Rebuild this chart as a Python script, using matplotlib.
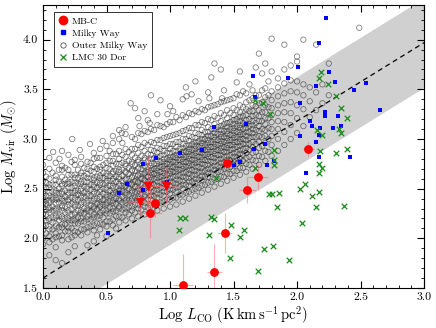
import matplotlib
matplotlib.use("Agg")
import matplotlib.pyplot as plt
from matplotlib.ticker import MultipleLocator
from matplotlib.lines import Line2D

plt.rcParams['font.family'] = 'serif'
plt.rcParams['font.serif'] = ['cmr10', 'DejaVu Serif']
plt.rcParams['mathtext.fontset'] = 'cm'
plt.rcParams['axes.formatter.use_mathtext'] = True

# ---------------- data ----------------
line_slope = 0.79
line_intercept = 1.60
band_halfwidth = 0.45
line_x = [0.0, 3.0]

# MB-C clouds (detections)
mbc_x = [1.10, 1.35, 1.43, 1.61, 1.69, 1.45, 2.09, 0.84, 0.88]
mbc_y = [1.53, 1.66, 2.05, 2.49, 2.62, 2.76, 2.90, 2.26, 2.36]
mbc_xerr = [0.08, 0.06, 0.06, 0.065, 0.08, 0.05, 0.04, 0.10, 0.07]
mbc_yerr = [0.31, 0.28, 0.20, 0.13, 0.13, 0.10, 0.07, 0.26, 0.15]

# MB-C upper limits (triangles)
mbc_lim_x = [0.76, 0.83, 0.97]
mbc_lim_y = [2.37, 2.53, 2.53]
mbc_lim_xerr = [0.10, 0.10, 0.09]
mbc_lim_yerr = [0.14, 0.30, 0.18]

# Milky Way
mw_x = [0.79, 0.89, 1.08, 1.25, 1.35, 0.66, 0.60, 0.79, 0.98, 0.51,
        2.23, 2.17, 1.65, 2.01, 1.93, 1.67, 2.25, 2.15, 2.30, 2.45,
        2.54, 2.02, 1.60, 2.22, 2.22, 2.32, 2.10, 2.12, 2.18, 2.28,
        2.35, 2.65, 2.02, 2.17, 2.15, 1.66, 1.75, 2.17, 2.42, 1.82,
        1.76, 1.55, 1.50, 2.07]
mw_y = [2.75, 2.81, 2.86, 2.89, 3.12, 2.55, 2.46, 2.49, 2.57, 2.05,
        4.22, 3.97, 3.63, 3.72, 3.61, 3.42, 3.67, 3.53, 3.57, 3.49,
        3.56, 3.36, 3.15, 3.27, 3.23, 3.23, 3.18, 3.13, 3.11, 3.11,
        3.13, 3.29, 3.03, 3.04, 2.97, 2.90, 2.95, 2.82, 2.82, 2.78,
        2.74, 2.77, 2.74, 2.66]

# LMC 30 Dor
lmc_x = [2.19, 2.17, 2.24, 2.31, 2.35, 2.39, 1.67, 1.73, 1.79, 2.16,
         2.20, 2.35, 2.33, 1.82, 2.18, 2.31, 2.39, 1.82, 1.82, 2.17,
         2.20, 1.67, 2.17, 1.36, 2.02, 2.06, 2.12, 2.17, 1.78, 1.80,
         1.86, 1.84, 2.15, 2.37, 1.32, 1.35, 1.48, 1.58, 1.55, 1.31,
         2.04, 1.74, 1.81, 1.94, 1.47, 1.69, 1.08, 1.12, 1.07]
lmc_y = [3.67, 3.61, 3.55, 3.43, 3.31, 3.21, 3.39, 3.36, 3.25, 3.09,
         3.04, 3.06, 3.10, 2.89, 2.88, 2.86, 2.90, 2.79, 2.74, 2.75,
         2.71, 2.71, 2.66, 2.61, 2.50, 2.55, 2.43, 2.47, 2.45, 2.45,
         2.46, 2.32, 2.32, 2.33, 2.21, 2.19, 2.13, 2.08, 2.01, 2.03,
         2.15, 1.89, 1.92, 1.78, 1.80, 1.67, 2.20, 2.20, 2.08]

# Outer Milky Way, set A: columns of Log L_CO with their Log M_vir values
omw_a_x = [0.00, 0.05, 0.10, 0.15, 0.20, 0.25, 0.30, 0.35, 0.40, 0.45,
           0.50, 0.55, 0.60, 0.65, 0.70, 0.75, 0.80, 0.85, 0.90, 0.95,
           1.00, 1.05, 1.10, 1.15, 1.20, 1.25, 1.30, 1.35, 1.40, 1.45,
           1.50, 1.55, 1.60, 1.65, 1.70, 1.75, 1.80, 1.85, 1.90, 1.95,
           2.00, 2.05, 2.10, 2.15, 2.20, 2.25, 2.49]
omw_a_y = [
    [1.94, 2.00, 2.08, 2.12, 2.14, 2.20, 2.24, 2.25, 2.31, 2.34, 2.36, 2.41, 2.45, 2.47, 2.53, 2.58, 2.66, 2.74],
    [1.83, 1.96, 2.02, 2.09, 2.12, 2.18, 2.20, 2.26, 2.29, 2.31, 2.36, 2.38, 2.43, 2.46, 2.51, 2.54, 2.60, 2.70, 2.81],
    [1.78, 1.91, 2.01, 2.05, 2.12, 2.15, 2.21, 2.23, 2.28, 2.30, 2.35, 2.39, 2.41, 2.46, 2.48, 2.54, 2.59, 2.63, 2.76],
    [1.75, 1.98, 2.03, 2.11, 2.14, 2.20, 2.22, 2.28, 2.31, 2.33, 2.38, 2.40, 2.45, 2.47, 2.53, 2.55, 2.62, 2.69, 2.73, 2.88],
    [1.86, 1.99, 2.07, 2.11, 2.18, 2.20, 2.26, 2.28, 2.34, 2.37, 2.39, 2.44, 2.46, 2.51, 2.55, 2.57, 2.64, 2.69, 2.84],
    [1.92, 2.03, 2.07, 2.15, 2.18, 2.24, 2.26, 2.32, 2.34, 2.39, 2.41, 2.46, 2.48, 2.53, 2.56, 2.61, 2.64, 2.74, 2.79],
    [2.03, 2.09, 2.17, 2.20, 2.26, 2.28, 2.34, 2.36, 2.41, 2.43, 2.48, 2.50, 2.55, 2.57, 2.63, 2.66, 2.75, 2.82],
    [1.93, 2.06, 2.11, 2.19, 2.22, 2.28, 2.30, 2.36, 2.38, 2.43, 2.45, 2.50, 2.52, 2.57, 2.61, 2.65, 2.70, 2.77],
    [1.97, 2.08, 2.13, 2.21, 2.24, 2.30, 2.32, 2.38, 2.40, 2.45, 2.47, 2.52, 2.54, 2.59, 2.61, 2.67, 2.72, 2.80, 2.86],
    [2.09, 2.15, 2.23, 2.26, 2.32, 2.34, 2.40, 2.42, 2.47, 2.49, 2.54, 2.56, 2.61, 2.63, 2.69, 2.72, 2.81, 2.90],
    [2.02, 2.12, 2.17, 2.25, 2.28, 2.34, 2.36, 2.42, 2.44, 2.49, 2.51, 2.56, 2.58, 2.63, 2.65, 2.71, 2.76, 2.83, 2.93],
    [2.13, 2.19, 2.27, 2.30, 2.36, 2.38, 2.44, 2.46, 2.51, 2.53, 2.58, 2.60, 2.65, 2.67, 2.73, 2.78, 2.85, 2.96],
    [2.16, 2.22, 2.30, 2.32, 2.38, 2.40, 2.46, 2.48, 2.53, 2.55, 2.60, 2.62, 2.67, 2.69, 2.75, 2.80, 2.88, 3.00, 3.09],
    [2.18, 2.26, 2.30, 2.36, 2.38, 2.44, 2.46, 2.52, 2.53, 2.59, 2.60, 2.66, 2.67, 2.73, 2.75, 2.82, 2.90, 3.05, 3.12],
    [2.20, 2.28, 2.32, 2.38, 2.40, 2.46, 2.48, 2.54, 2.55, 2.61, 2.62, 2.68, 2.69, 2.75, 2.77, 2.84, 2.90, 3.02],
    [2.22, 2.30, 2.34, 2.40, 2.42, 2.48, 2.50, 2.56, 2.57, 2.63, 2.64, 2.70, 2.71, 2.77, 2.79, 2.86, 2.94, 3.06, 3.21],
    [2.24, 2.32, 2.36, 2.42, 2.44, 2.50, 2.52, 2.58, 2.59, 2.65, 2.66, 2.72, 2.73, 2.79, 2.81, 2.88, 2.96, 3.08, 3.28],
    [2.26, 2.33, 2.39, 2.43, 2.47, 2.51, 2.55, 2.59, 2.62, 2.66, 2.69, 2.73, 2.76, 2.80, 2.84, 2.89, 2.97, 3.10, 3.44],
    [2.28, 2.35, 2.41, 2.45, 2.49, 2.53, 2.57, 2.61, 2.64, 2.68, 2.71, 2.75, 2.78, 2.82, 2.86, 2.91, 2.99, 3.14, 3.25],
    [2.30, 2.37, 2.43, 2.47, 2.51, 2.55, 2.59, 2.63, 2.66, 2.70, 2.73, 2.77, 2.80, 2.84, 2.88, 2.93, 3.01, 3.12],
    [2.32, 2.39, 2.45, 2.49, 2.53, 2.57, 2.61, 2.65, 2.68, 2.72, 2.75, 2.79, 2.82, 2.86, 2.90, 2.95, 3.03, 3.17, 3.33],
    [2.34, 2.41, 2.47, 2.51, 2.55, 2.59, 2.63, 2.67, 2.70, 2.74, 2.77, 2.81, 2.84, 2.88, 2.92, 2.97, 3.05, 3.22],
    [2.37, 2.44, 2.50, 2.54, 2.58, 2.62, 2.66, 2.70, 2.73, 2.77, 2.80, 2.84, 2.87, 2.91, 2.95, 3.00, 3.08, 3.24, 3.40],
    [2.40, 2.47, 2.53, 2.57, 2.61, 2.65, 2.69, 2.73, 2.76, 2.80, 2.83, 2.87, 2.90, 2.94, 2.98, 3.03, 3.11, 3.26],
    [2.43, 2.50, 2.56, 2.60, 2.64, 2.68, 2.72, 2.76, 2.79, 2.83, 2.86, 2.90, 2.93, 2.97, 3.01, 3.06, 3.14, 3.28, 3.58],
    [2.46, 2.53, 2.59, 2.63, 2.67, 2.71, 2.75, 2.79, 2.82, 2.86, 2.89, 2.93, 2.96, 3.00, 3.04, 3.09, 3.17, 3.30],
    [2.49, 2.56, 2.62, 2.66, 2.70, 2.74, 2.78, 2.82, 2.85, 2.89, 2.92, 2.96, 2.99, 3.03, 3.07, 3.12, 3.20, 3.32, 3.47],
    [2.52, 2.59, 2.65, 2.69, 2.73, 2.77, 2.81, 2.85, 2.88, 2.92, 2.95, 2.99, 3.02, 3.06, 3.10, 3.15, 3.23, 3.34, 3.76],
    [2.55, 2.62, 2.68, 2.72, 2.76, 2.80, 2.84, 2.88, 2.91, 2.95, 2.98, 3.02, 3.05, 3.09, 3.13, 3.18, 3.26, 3.37, 3.70],
    [2.58, 2.65, 2.71, 2.75, 2.79, 2.83, 2.87, 2.91, 2.94, 2.98, 3.01, 3.05, 3.08, 3.12, 3.16, 3.21, 3.29, 3.39],
    [2.61, 2.68, 2.74, 2.78, 2.82, 2.86, 2.90, 2.94, 2.97, 3.01, 3.04, 3.08, 3.11, 3.15, 3.19, 3.24, 3.31, 3.41],
    [2.64, 2.71, 2.77, 2.81, 2.85, 2.89, 2.93, 2.97, 3.00, 3.04, 3.07, 3.11, 3.14, 3.18, 3.22, 3.27, 3.34, 3.44, 3.68],
    [2.67, 2.75, 2.81, 2.86, 2.91, 2.95, 2.99, 3.03, 3.07, 3.11, 3.15, 3.19, 3.24, 3.30, 3.37, 3.46],
    [2.70, 2.79, 2.86, 2.92, 2.97, 3.02, 3.06, 3.10, 3.14, 3.18, 3.23, 3.28, 3.34, 3.41, 3.49],
    [2.74, 2.83, 2.91, 2.97, 3.03, 3.08, 3.13, 3.18, 3.23, 3.29, 3.36, 3.44, 3.86],
    [2.78, 2.88, 2.96, 3.03, 3.09, 3.15, 3.21, 3.27, 3.34, 3.42, 3.51, 3.76],
    [2.83, 2.94, 3.03, 3.10, 3.17, 3.24, 3.31, 3.39, 3.48, 3.68, 4.01],
    [2.88, 3.00, 3.10, 3.18, 3.26, 3.34, 3.43, 3.52, 3.61],
    [2.94, 3.07, 3.17, 3.27, 3.36, 3.46, 3.56, 3.70, 3.95],
    [3.00, 3.14, 3.26, 3.37, 3.48, 3.59, 3.74],
    [3.06, 3.21, 3.34, 3.47, 3.58, 3.78, 3.83],
    [3.13, 3.30, 3.44, 3.55, 4.00],
    [3.22, 3.38, 3.52],
    [3.29, 3.47, 3.95],
    [3.36, 3.55],
    [3.44, 3.76],
    [4.12],
]

# Outer Milky Way, set B: interleaved columns
omw_b_x = [0.025, 0.075, 0.125, 0.175, 0.225, 0.275, 0.325, 0.375, 0.425, 0.475,
           0.525, 0.575, 0.625, 0.675, 0.725, 0.775, 0.825, 0.875, 0.925, 0.975,
           1.025, 1.075, 1.125, 1.175, 1.225, 1.275, 1.325, 1.375, 1.425, 1.475,
           1.525, 1.575, 1.625, 1.675, 1.725, 1.775]
omw_b_y = [
    [2.05, 2.13, 2.18, 2.24, 2.29, 2.35, 2.38, 2.43, 2.51, 2.56, 2.62],
    [1.99, 2.09, 2.16, 2.21, 2.28, 2.32, 2.39, 2.41, 2.47, 2.54, 2.66],
    [2.02, 2.11, 2.18, 2.22, 2.29, 2.36, 2.40, 2.46, 2.50, 2.57, 2.69],
    [2.07, 2.14, 2.20, 2.26, 2.32, 2.38, 2.42, 2.48, 2.55, 2.59, 2.71],
    [2.01, 2.10, 2.18, 2.24, 2.29, 2.35, 2.41, 2.46, 2.51, 2.57, 2.64, 2.77],
    [2.06, 2.15, 2.21, 2.28, 2.33, 2.39, 2.44, 2.48, 2.55, 2.61, 2.69],
    [2.09, 2.17, 2.25, 2.30, 2.36, 2.42, 2.46, 2.52, 2.57, 2.63, 2.71],
    [2.12, 2.19, 2.27, 2.33, 2.38, 2.43, 2.49, 2.54, 2.60, 2.68, 2.76],
    [2.03, 2.15, 2.22, 2.29, 2.35, 2.40, 2.46, 2.51, 2.56, 2.62, 2.70, 2.81],
    [2.14, 2.21, 2.28, 2.34, 2.39, 2.45, 2.50, 2.55, 2.61, 2.66, 2.74],
    [2.17, 2.25, 2.31, 2.37, 2.43, 2.48, 2.53, 2.58, 2.63, 2.70, 2.78, 2.88],
    [2.10, 2.22, 2.28, 2.35, 2.40, 2.46, 2.52, 2.57, 2.62, 2.68, 2.75, 2.85],
    [2.21, 2.29, 2.36, 2.42, 2.47, 2.53, 2.58, 2.63, 2.69, 2.76, 2.84, 2.96],
    [2.24, 2.31, 2.38, 2.44, 2.50, 2.55, 2.60, 2.65, 2.71, 2.78, 2.87],
    [2.26, 2.34, 2.41, 2.47, 2.52, 2.57, 2.63, 2.68, 2.74, 2.81, 2.90, 3.00, 3.31],
    [2.29, 2.37, 2.44, 2.49, 2.55, 2.60, 2.65, 2.70, 2.76, 2.83, 2.92, 3.05],
    [2.31, 2.39, 2.46, 2.52, 2.57, 2.62, 2.67, 2.72, 2.78, 2.85, 2.94, 3.07, 3.19],
    [2.34, 2.42, 2.48, 2.54, 2.60, 2.65, 2.70, 2.75, 2.81, 2.88, 2.96, 3.09],
    [2.36, 2.44, 2.51, 2.57, 2.62, 2.67, 2.72, 2.77, 2.83, 2.90, 2.99, 3.13, 3.39],
    [2.39, 2.47, 2.53, 2.59, 2.64, 2.70, 2.75, 2.80, 2.86, 2.93, 3.02, 3.15],
    [2.41, 2.49, 2.56, 2.62, 2.67, 2.72, 2.77, 2.82, 2.88, 2.95, 3.04, 3.17, 3.28],
    [2.44, 2.52, 2.58, 2.64, 2.69, 2.74, 2.79, 2.84, 2.90, 2.97, 3.06, 3.19],
    [2.46, 2.54, 2.61, 2.67, 2.72, 2.77, 2.82, 2.87, 2.93, 3.00, 3.09, 3.22, 3.52],
    [2.49, 2.57, 2.63, 2.69, 2.74, 2.79, 2.84, 2.89, 2.95, 3.02, 3.11, 3.25],
    [2.51, 2.59, 2.66, 2.72, 2.77, 2.82, 2.87, 2.92, 2.98, 3.05, 3.14, 3.27, 3.38],
    [2.54, 2.62, 2.68, 2.74, 2.79, 2.84, 2.89, 2.94, 3.00, 3.07, 3.16, 3.29],
    [2.57, 2.65, 2.71, 2.77, 2.82, 2.87, 2.92, 2.97, 3.03, 3.10, 3.19, 3.33, 3.62],
    [2.60, 2.67, 2.73, 2.79, 2.84, 2.89, 2.94, 2.99, 3.05, 3.12, 3.21, 3.35],
    [2.62, 2.70, 2.76, 2.82, 2.87, 2.92, 2.97, 3.02, 3.08, 3.15, 3.24, 3.38, 3.49],
    [2.65, 2.72, 2.78, 2.84, 2.89, 2.94, 2.99, 3.04, 3.10, 3.17, 3.26, 3.40],
    [2.68, 2.75, 2.81, 2.87, 2.92, 2.97, 3.02, 3.07, 3.13, 3.20, 3.29, 3.45, 3.57],
    [2.71, 2.78, 2.84, 2.90, 2.95, 3.00, 3.05, 3.10, 3.16, 3.23, 3.32, 3.48],
    [2.74, 2.82, 2.89, 2.95, 3.01, 3.07, 3.13, 3.20, 3.28, 3.39, 3.55],
    [2.78, 2.87, 2.95, 3.02, 3.09, 3.16, 3.24, 3.33, 3.44, 3.72],
    [2.82, 2.93, 3.02, 3.10, 3.18, 3.27, 3.37, 3.49, 3.66],
    [2.87, 3.00, 3.11, 3.21, 3.32, 3.44, 3.58],
]

# Outer Milky Way, scattered points above the main locus
omw_c_x = [0.23, 0.69, 0.62, 0.47, 0.29, 0.08, 0.76, 0.84, 0.98, 1.13,
           1.17, 1.31, 1.41, 0.55, 0.37, 0.13]
omw_c_y = [3.00, 3.36, 3.06, 2.98, 2.89, 2.87, 3.13, 3.16, 3.25, 3.43,
           3.45, 3.41, 3.41, 3.03, 2.95, 2.80]

# ---------------- figure ----------------
fig = plt.figure(figsize=(4.36, 3.28), dpi=100)
ax = fig.add_axes([0.0986, 0.122, 0.874, 0.863])

band_lo = [line_intercept + line_slope * v - band_halfwidth for v in line_x]
band_hi = [line_intercept + line_slope * v + band_halfwidth for v in line_x]
line_y = [line_intercept + line_slope * v for v in line_x]
ax.fill_between(line_x, band_lo, band_hi, color='#d0d0d0', lw=0, zorder=0)

ox, oy = list(omw_c_x), list(omw_c_y)
for cols_x, cols_y in ((omw_a_x, omw_a_y), (omw_b_x, omw_b_y)):
    for cx, ys in zip(cols_x, cols_y):
        for yy in ys:
            ox.append(cx)
            oy.append(yy)
ax.scatter(ox, oy, s=15, facecolors='none', edgecolors='#262626',
           linewidths=0.6, alpha=0.58, zorder=1)

ax.plot(line_x, line_y, color='black', ls=(0, (4, 3)), lw=0.9, zorder=2)

ax.scatter(mw_x, mw_y, marker='s', s=11, color='#0000ff', lw=0, zorder=3)
ax.scatter(lmc_x, lmc_y, marker='x', s=16, color='#1a8c1a', lw=0.9, zorder=3)

ax.errorbar(mbc_x, mbc_y, xerr=mbc_xerr, yerr=mbc_yerr, fmt='none',
            ecolor='#ff6060', elinewidth=0.8, alpha=0.5, zorder=4)
ax.errorbar(mbc_lim_x, mbc_lim_y, xerr=mbc_lim_xerr, yerr=mbc_lim_yerr, fmt='none',
            ecolor='#ff6060', elinewidth=0.8, alpha=0.5, zorder=4)
ax.scatter(mbc_x, mbc_y, marker='o', s=40, color='#ff0000', lw=0, zorder=5)
ax.scatter(mbc_lim_x, mbc_lim_y, marker='v', s=45, color='#ff0000', lw=0, zorder=5)

ax.set_xlim(0.0, 3.0)
ax.set_ylim(1.5, 4.35)
ax.xaxis.set_major_locator(MultipleLocator(0.5))
ax.xaxis.set_minor_locator(MultipleLocator(0.1))
ax.yaxis.set_major_locator(MultipleLocator(0.5))
ax.yaxis.set_minor_locator(MultipleLocator(0.1))
ax.tick_params(which='both', direction='in', top=True, right=True, labelsize=8.5)
ax.tick_params(which='major', length=5, width=0.8)
ax.tick_params(which='minor', length=2.5, width=0.6)
ax.xaxis.set_major_formatter(plt.FormatStrFormatter('%.1f'))
ax.yaxis.set_major_formatter(plt.FormatStrFormatter('%.1f'))
for sp in ax.spines.values():
    sp.set_linewidth(0.8)

ax.set_xlabel(r'Log $L_{\rm CO}\ ({\rm K\,km\,s^{-1}\,pc^{2}})$', fontsize=10.5, labelpad=2)
ax.set_ylabel(r'Log $M_{\rm vir}\ (M_{\odot})$', fontsize=10.5, labelpad=3)

handles = [
    Line2D([], [], ls='none', marker='o', ms=6, mfc='#ff0000', mec='#ff0000'),
    Line2D([], [], ls='none', marker='s', ms=3.3, mfc='#0000ff', mec='#0000ff'),
    Line2D([], [], ls='none', marker='o', ms=3.8, mfc='none', mec='#555555', mew=0.6),
    Line2D([], [], ls='none', marker='x', ms=4, mec='#1a8c1a', mew=0.9),
]
labels = ['MB-C', 'Milky Way', 'Outer Milky Way', 'LMC 30 Dor']
leg = ax.legend(handles, labels, loc='upper left', bbox_to_anchor=(0.03, 0.975),
                fontsize=7, frameon=True, fancybox=False, edgecolor='black',
                handlelength=0.8, handletextpad=0.5, borderpad=0.5,
                labelspacing=0.35, borderaxespad=0.0)
leg.get_frame().set_linewidth(0.7)

fig.savefig('out.png', dpi=100)
